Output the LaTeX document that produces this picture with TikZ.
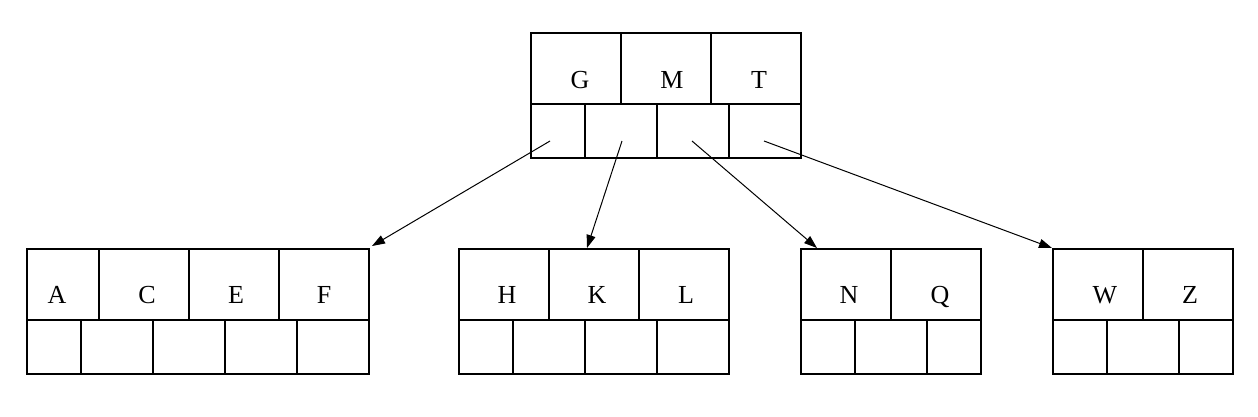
\documentclass[tikz,border=0pt]{standalone}
\usepackage{fontspec}
\setmainfont{Liberation Serif}
\usetikzlibrary{arrows.meta}
\begin{document}
\begin{tikzpicture}[x=1pt,y=-1pt,
  rec/.style={draw,line width=2pt,rectangle,inner sep=0pt},
  div/.style={line width=2pt},
  key/.style={font=\fontsize{26}{26}\selectfont,anchor=base,inner sep=0pt},
  ptr/.style={line width=1pt,-{Triangle[length=13pt,width=9pt]}}]
\useasboundingbox (0,0) rectangle (1258,416);
% root
\node[rec,minimum width=270pt,minimum height=125pt] (root) at (666,95.5) {};
\draw[div] (531,104) -- (801,104);
\draw[div] (621,33) -- (621,104) (711,33) -- (711,104);
\draw[div] (585,104) -- (585,158) (657,104) -- (657,158) (729,104) -- (729,158);
\node[key] (kG) at (580,88) {G};
\node[key] (kM) at (672,88) {M};
\node[key] (kT) at (759,88) {T};
\coordinate (p1) at (550,141);
\coordinate (p2) at (622,141);
\coordinate (p3) at (692,141);
\coordinate (p4) at (764,141);
% child 1
\node[rec,minimum width=342pt,minimum height=125pt] (c1) at (198,311.5) {};
\draw[div] (27,320) -- (369,320);
\draw[div] (99,249) -- (99,320) (189,249) -- (189,320) (279,249) -- (279,320);
\draw[div] (81,320) -- (81,374) (153,320) -- (153,374) (225,320) -- (225,374) (297,320) -- (297,374);
\node[key] (kA) at (57,303) {A};
\node[key] (kC) at (147,303) {C};
\node[key] (kE) at (236,303) {E};
\node[key] (kF) at (324,303) {F};
% child 2
\node[rec,minimum width=270pt,minimum height=125pt] (c2) at (594,311.5) {};
\draw[div] (459,320) -- (729,320);
\draw[div] (549,249) -- (549,320) (639,249) -- (639,320);
\draw[div] (513,320) -- (513,374) (585,320) -- (585,374) (657,320) -- (657,374);
\node[key] (kH) at (507,303) {H};
\node[key] (kK) at (597,303) {K};
\node[key] (kL) at (686,303) {L};
% child 3
\node[rec,minimum width=180pt,minimum height=125pt] (c3) at (891,311.5) {};
\draw[div] (801,320) -- (981,320);
\draw[div] (891,249) -- (891,320);
\draw[div] (855,320) -- (855,374) (927,320) -- (927,374);
\node[key] (kN) at (849,303) {N};
\node[key] (kQ) at (940,303) {Q};
% child 4
\node[rec,minimum width=180pt,minimum height=125pt] (c4) at (1143,311.5) {};
\draw[div] (1053,320) -- (1233,320);
\draw[div] (1143,249) -- (1143,320);
\draw[div] (1107,320) -- (1107,374) (1179,320) -- (1179,374);
\node[key] (kW) at (1105,303) {W};
\node[key] (kZ) at (1190,303) {Z};
% arrow ends
\coordinate (e1) at (372,246);
\coordinate (e2) at (587,248);
\coordinate (e3) at (817,248);
\coordinate (e4) at (1052,248);
\draw[ptr] (p1) -- (e1);
\draw[ptr] (p2) -- (e2);
\draw[ptr] (p3) -- (e3);
\draw[ptr] (p4) -- (e4);
\end{tikzpicture}
\end{document}
